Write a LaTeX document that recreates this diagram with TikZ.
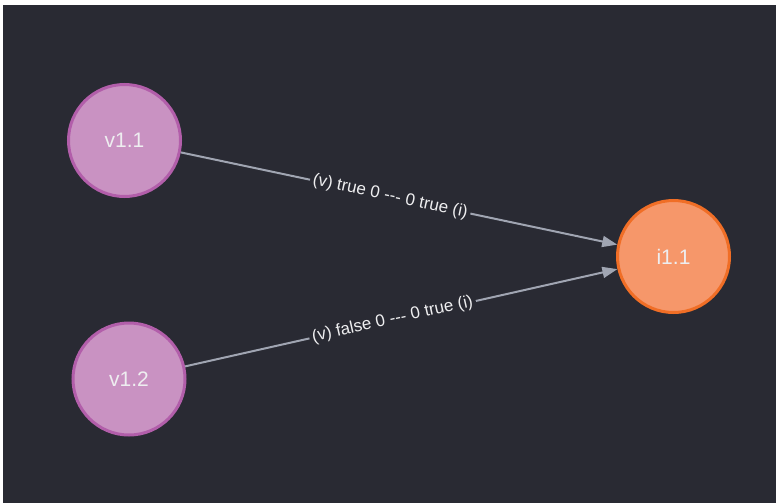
\documentclass[tikz,border=0pt]{standalone}
\usepackage{fontspec}
\setmainfont{Liberation Sans}
\usepackage{tikz}
\usetikzlibrary{arrows.meta}
\definecolor{bgdark}{RGB}{41,42,51}
\definecolor{vfill}{RGB}{201,146,194}
\definecolor{vline}{RGB}{178,94,170}
\definecolor{ifill}{RGB}{246,151,106}
\definecolor{iline}{RGB}{240,110,38}
\definecolor{edgecol}{RGB}{160,165,178}
\definecolor{txtcol}{RGB}{238,238,240}

\begin{document}
\begin{tikzpicture}[x=1pt,y=1pt,
    vert/.style={circle,minimum size=112pt,inner sep=0pt,line width=3pt,text=txtcol,font=\fontsize{21}{21}\selectfont},
    link/.style={-{Triangle[length=15pt,width=11pt]},line width=2pt,color=edgecol},
    lbl/.style={fill=bgdark,inner sep=3pt,text=txtcol,font=\fontsize{17}{17}\selectfont,sloped}]
    \fill[white] (0,0) rectangle (776,-503);
    \fill[bgdark] (3,-5) rectangle (776,-503);
    \useasboundingbox (0,0) rectangle (776,-503);
    \node[vert,fill=vfill,draw=vline] (V1) at (124.5,-140.5) {v1.1};
    \node[vert,fill=vfill,draw=vline] (V2) at (129,-379) {v1.2};
    \node[vert,fill=ifill,draw=iline] (I1) at (673.5,-256.5) {i1.1};
    \draw[link] (V1) -- node[lbl,pos=0.48] {(v) true 0 {-}{-}{-} 0 true (i)} (I1);
    \draw[link] (V2) -- node[lbl,pos=0.48] {(v) false 0 {-}{-}{-} 0 true (i)} (I1);
  \end{tikzpicture}
\end{document}
